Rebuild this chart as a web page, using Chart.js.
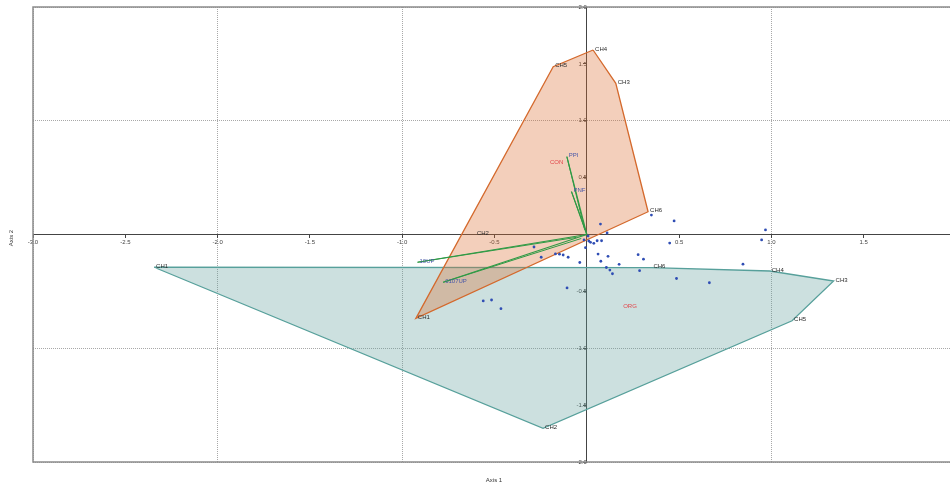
<!DOCTYPE html>
<html><head><meta charset="utf-8">
<script src="https://cdn.jsdelivr.net/npm/chart.js@4.4.1/dist/chart.umd.min.js"></script>
<style>
html,body{margin:0;padding:0;background:#fff;overflow:hidden}
#wrap{width:950px;height:484px;overflow:hidden;position:relative;background:#fff}
#c{position:absolute;left:0;top:0}
</style></head><body>
<div id="wrap"><canvas id="c" width="970" height="484"></canvas></div>
<script>
// ---- data ----
const conSites = ['CH1','CH2','CH3','CH4','CH5','CH6'];
const conX = [-0.926, -0.606, 0.157, 0.034, -0.182, 0.332];
const conY = [-0.737, 0.002, 1.329, 1.622, 1.475, 0.200];
const conHull = ['CH4','CH3','CH6','CH1','CH5'];

const orgSites = ['CH1','CH2','CH3','CH4','CH5','CH6'];
const orgX = [-2.344, -0.237, 1.337, 0.991, 1.112, 0.350];
const orgY = [-0.288, -1.704, -0.409, -0.321, -0.758, -0.292];
const orgHull = ['CH1','CH6','CH4','CH3','CH5','CH2'];

const groupNames = ['CON','ORG'];
const groupX = [-0.200, 0.197];
const groupY = [0.635, -0.635];

const vecNames = ['PPI','PNF','10UP','0107UP'];
const vecX = [-0.108, -0.083, -0.917, -0.778];
const vecY = [0.684, 0.377, -0.244, -0.420];
const vecBaseX = [-0.011, -0.006, -0.056, -0.030];
const vecBaseY = [0.040, 0.030, -0.025, -0.035];

const ptX = [0.074,0.110,0.007,-0.015,0.011,0.020,0.038,0.056,0.080,-0.007,-0.286,-0.247,-0.170,-0.148,-0.128,-0.101,-0.038,0.061,0.115,0.076,0.106,0.125,0.139,0.175,0.278,0.286,0.307,-0.107,0.350,0.473,0.968,0.947,0.449,0.846,0.486,0.664,-0.561,-0.516,-0.465];
const ptY = [0.092,0.013,-0.013,-0.048,-0.057,-0.069,-0.078,-0.055,-0.055,-0.116,-0.110,-0.200,-0.171,-0.173,-0.180,-0.200,-0.246,-0.172,-0.192,-0.235,-0.290,-0.313,-0.345,-0.262,-0.177,-0.318,-0.217,-0.470,0.171,0.119,0.040,-0.048,-0.075,-0.261,-0.387,-0.424,-0.584,-0.576,-0.652];

const xTicksMin = -3, xTicksMax = 2, yTicksMin = -2, yTicksMax = 2, tickStep = 0.5;

// ---- build ----
function hullData(names, sites, xs, ys){
  const d = names.map(n => { const i = sites.indexOf(n); return {x: xs[i], y: ys[i]}; });
  d.push(d[0]);
  return d;
}
const datasets = [];
datasets.push({type:'line', data: ptX.map((x,i)=>({x, y: ptY[i]})), showLine:false, pointRadius:1.4, pointBackgroundColor:'#2f4db4', pointBorderWidth:0, order:0});
vecNames.forEach((n,i)=>{
  datasets.push({type:'line', data:[{x:0,y:0},{x:vecX[i],y:vecY[i]}], borderColor:'#2f9a45', borderWidth:1.2, pointRadius:0, fill:false, order:1});
  datasets.push({type:'line', data:[{x:vecBaseX[i],y:vecBaseY[i]},{x:vecX[i],y:vecY[i]}], borderColor:'#2f9a45', borderWidth:1.0, pointRadius:0, fill:false, order:1});
});
datasets.push({type:'line', data: hullData(conHull, conSites, conX, conY), borderColor:'#d4692c', borderWidth:1.3, backgroundColor:'rgba(220,110,50,0.33)', fill:'shape', pointRadius:0, tension:0, order:2});
datasets.push({type:'line', data: hullData(orgHull, orgSites, orgX, orgY), borderColor:'#57a09b', borderWidth:1.3, backgroundColor:'rgba(95,160,157,0.32)', fill:'shape', pointRadius:0, tension:0, order:3});

const FONT = '"Liberation Sans", Arial, sans-serif';
const isGrid = v => Math.abs(v - Math.round(v)) < 1e-9 && Math.abs(v) > 1e-9;

const overlay = {
  id:'overlay',
  afterDatasetsDraw(chart){
    const {ctx, chartArea:a, scales:{x, y}} = chart;
    ctx.save();
    ctx.font = '6px ' + FONT;
    ctx.textAlign = 'left'; ctx.textBaseline = 'middle';
    ctx.fillStyle = '#2a2a2a';
    conSites.forEach((n,i)=>{ ctx.fillText(n, x.getPixelForValue(conX[i])+2, y.getPixelForValue(conY[i])-1); });
    orgSites.forEach((n,i)=>{ ctx.fillText(n, x.getPixelForValue(orgX[i])+2, y.getPixelForValue(orgY[i])-1); });
    ctx.fillStyle = '#4656a8';
    vecNames.forEach((n,i)=>{ ctx.fillText(n, x.getPixelForValue(vecX[i])+2, y.getPixelForValue(vecY[i])-1); });
    ctx.fillStyle = '#e2454a';
    groupNames.forEach((n,i)=>{ ctx.fillText(n, x.getPixelForValue(groupX[i]), y.getPixelForValue(groupY[i])); });
    // frame
    ctx.strokeStyle = '#8c8c8c'; ctx.lineWidth = 1.5;
    ctx.beginPath();
    ctx.moveTo(a.right, a.top); ctx.lineTo(a.left, a.top); ctx.lineTo(a.left, a.bottom); ctx.lineTo(a.right, a.bottom);
    ctx.stroke();
    // axis titles
    ctx.fillStyle = '#333'; ctx.textAlign = 'center';
    ctx.fillText('Axis 1', 494, 480);
    ctx.translate(11, 238); ctx.rotate(-Math.PI/2);
    ctx.fillText('Axis 2', 0, 0);
    ctx.restore();
  }
};

new Chart(document.getElementById('c'), {
  type:'scatter',
  data:{datasets},
  options:{
    responsive:false, animation:false, devicePixelRatio:1,
    layout:{padding:{left:33, top:7, right:14, bottom:22}},
    plugins:{legend:{display:false}, tooltip:{enabled:false}},
    scales:{
      x:{type:'linear', min:xTicksMin, max:xTicksMax, position:{y:0},
        ticks:{stepSize:tickStep, autoSkip:false, maxRotation:0, padding:1, color:'#444', font:{size:6, family:FONT},
          callback:v => Math.abs(v)<1e-9 ? '' : v.toFixed(1)},
        grid:{color:c => isGrid(c.tick.value) ? '#a8a8a8' : 'rgba(0,0,0,0)', lineWidth:1, tickColor:'#444', tickLength:3},
        border:{color:'#444', width:1, dash:[1,1]}},
      y:{type:'linear', min:yTicksMin, max:yTicksMax, position:{x:0},
        ticks:{stepSize:tickStep, autoSkip:false, padding:1, color:'#444', font:{size:6, family:FONT},
          callback:v => Math.abs(v)<1e-9 ? '' : v.toFixed(1)},
        grid:{color:c => isGrid(c.tick.value) ? '#a8a8a8' : 'rgba(0,0,0,0)', lineWidth:1, tickColor:'#444', tickLength:3},
        border:{color:'#444', width:1, dash:[1,1]}}
    }
  },
  plugins:[overlay]
});
</script>
</body></html>
